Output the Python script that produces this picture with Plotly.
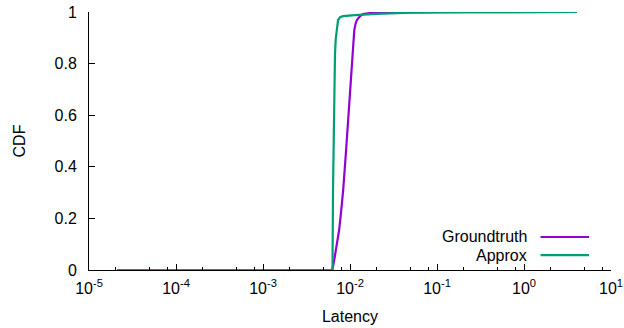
import plotly.graph_objects as go

# Data
gt_latency = [2.1e-5, 6.25e-3, 6.6e-3, 6.9e-3, 7.2e-3, 7.5e-3, 7.9e-3, 8.35e-3, 9.0e-3,
              9.8e-3, 1.074e-2, 1.10e-2, 1.12e-2, 1.16e-2, 1.20e-2, 1.30e-2, 1.41e-2,
              1.70e-2, 3.0e-2, 1.0e-1, 4.04]
gt_cdf = [0.0, 0.0, 0.04, 0.0775, 0.115, 0.155, 0.225, 0.31, 0.46,
          0.645, 0.833, 0.89, 0.93, 0.955, 0.969, 0.983, 0.992,
          0.996, 0.998, 0.999, 1.0]

ap_latency = [2.1e-5, 6.29e-3, 6.38e-3, 6.55e-3, 6.72e-3, 6.85e-3, 7.0e-3, 7.29e-3,
              7.7e-3, 8.3e-3, 1.14e-2, 2.0e-2, 5.0e-2, 2.0e-1, 4.04]
ap_cdf = [0.0, 0.0, 0.31, 0.659, 0.833, 0.895, 0.93, 0.969,
          0.98, 0.984, 0.988, 0.993, 0.997, 0.999, 1.0]

series_names = ["Groundtruth", "Approx"]
series_colors = ["#9400d3", "#009e73"]

x_tick_exps = [-5, -4, -3, -2, -1, 0, 1]
x_tick_vals = [10.0 ** e for e in x_tick_exps]
x_tick_text = ["10<sup>%d</sup>" % e for e in x_tick_exps]
x_minor_vals = [m * 10.0 ** e for e in x_tick_exps[:-1] for m in (2, 5, 8)]

y_tick_vals = [0, 0.2, 0.4, 0.6, 0.8, 1]
y_tick_text = ["0", "0.2", "0.4", "0.6", "0.8", "1"]

FONT = "Liberation Sans, Arial, Helvetica, sans-serif"
FS = 16

fig = go.Figure()
for xs, ys, name, col in [(gt_latency, gt_cdf, series_names[0], series_colors[0]),
                          (ap_latency, ap_cdf, series_names[1], series_colors[1])]:
    fig.add_trace(go.Scatter(x=xs, y=ys, mode="lines", name=name,
                             line=dict(color=col, width=2.2),
                             showlegend=False))

fig.update_layout(
    width=624, height=328,
    margin=dict(l=89, r=13, t=12, b=58),
    paper_bgcolor="white", plot_bgcolor="white",
    font=dict(family=FONT, size=FS, color="black"),
    showlegend=False,
)
fig.update_xaxes(
    type="log", range=[-5, 1], automargin=False,
    tickmode="array", tickvals=x_tick_vals, ticktext=x_tick_text,
    ticks="inside", ticklen=6, tickcolor="black", tickwidth=1,
    minor=dict(tickmode="array", tickvals=x_minor_vals, ticks="inside", ticklen=3,
               tickcolor="black", tickwidth=1, showgrid=False),
    showline=True, linecolor="black", linewidth=1, mirror=False,
    showgrid=False, zeroline=False,
    tickfont=dict(size=FS),
    title=dict(text="Latency", font=dict(size=FS), standoff=14),
    ticklabelstandoff=4,
)
fig.update_yaxes(
    range=[0, 1], automargin=False,
    tickmode="array", tickvals=y_tick_vals, ticktext=y_tick_text,
    ticks="inside", ticklen=6, tickcolor="black", tickwidth=1,
    showline=True, linecolor="black", linewidth=1, mirror=False,
    showgrid=False, zeroline=False,
    tickfont=dict(size=FS),
    title=dict(text="CDF", font=dict(size=FS), standoff=24),
    ticklabelstandoff=8,
)

# gnuplot-style key: text right-aligned, sample line to its right
key_y = [0.128, 0.058]
for name, col, ky in zip(series_names, series_colors, key_y):
    fig.add_annotation(xref="paper", yref="paper", x=0.843, y=ky, text=name,
                       showarrow=False, xanchor="right", yanchor="middle",
                       font=dict(family=FONT, size=FS, color="black"))
    fig.add_shape(type="line", xref="paper", yref="paper", x0=0.865, x1=0.958,
                  y0=ky, y1=ky, line=dict(color=col, width=2.2))

fig.write_html("out.html", config={"displayModeBar": False},
               post_script="document.body.style.margin='0';")
